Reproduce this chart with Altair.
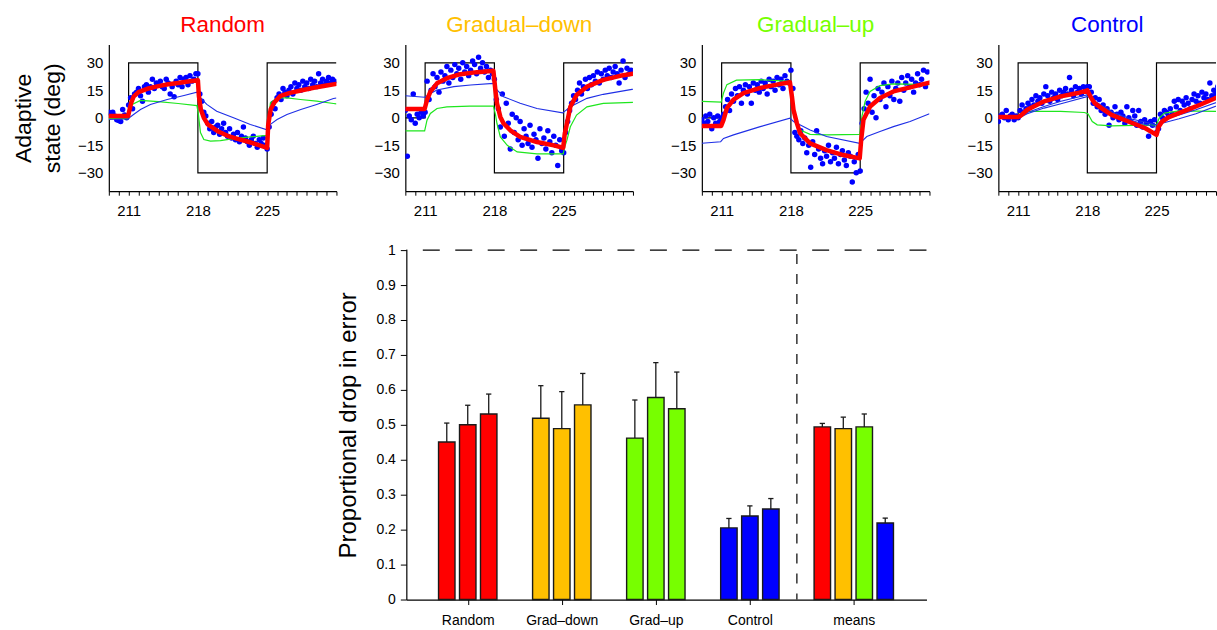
import altair as alt
import pandas as pd

FONT = "Liberation Sans"
RED = "#FF0000"
ORANGE = "#FFC000"
LIME = "#77FF00"
BLUE = "#0000FF"
FIT_GREEN = "#1EE61E"
FIT_BLUE = "#1F2FE6"

# ---------------- top panels: adaptive state vs trial block ----------------
TRIAL_X = [round(209.0 + 0.2 * k, 1) for k in range(115)]
X_TICKS = list(range(209, 233))

PERTURB_X = [209, 211, 211, 218, 218, 225, 225, 232]
PERTURB_Y = [0, 0, 30, 30, -30, -30, 30, 30]

# Random
RAND_DOTS = [3, 2, 3, 1, -1, -1.5, -2, 4.5, 1.5, 0,
             7, 11, 5, 13, 14, 16, 12, 9, 17, 18, 14, 17, 21, 16, 19, 18, 20, 17, 16, 21,
             19, 13, 17, 11.5, 20, 18, 22, 17, 21, 22, 18, 23, 20, 21, 24, 24,
             13, 9, 3, 1, -3, -6, -2, -8, -5, -4, -9, -6, -3, -8, -10, -6, -11, -9, -12, -8,
             -13, -10, -5, -11, -13, -15, -12, -10, -14, -16, -12, -14, -11, -15, -17,
             -5, 2, 8, 5, 11, 13, 10, 16, 14, 12, 15, 17, 13, 19, 16, 18, 15, 20, 17, 19,
             16, 21, 18, 20, 17, 24, 19, 21, 18, 20, 22, 19, 21, 20]
RAND_RED_X = [209.0, 210.95, 211.1, 211.25, 211.5, 212.0, 213.0, 214.0, 215.0, 216.0, 217.0, 218.0,
              218.1, 218.3, 218.6, 219.0, 220.0, 221.0, 222.0, 223.0, 224.0, 225.0,
              225.1, 225.35, 225.7, 226.3, 227.3, 228.4, 229.7, 231.0, 232.0]
RAND_RED_Y = [1.0, 1.0, 4.5, 8.0, 11.5, 14.0, 16.0, 17.3, 18.3, 19.0, 19.8, 20.5,
              12.0, 4.5, 0.0, -3.6, -7.3, -9.8, -11.5, -12.9, -14.6, -16.4,
              -4.0, 4.5, 8.2, 11.8, 13.6, 14.9, 16.4, 17.6, 18.5]
RAND_GREEN_X = [209.0, 210.95, 211.1, 211.36, 212.2, 214.0, 216.0, 217.9, 218.05, 218.26, 218.6,
                219.27, 220.28, 221.6, 223.3, 224.95, 225.1, 225.33, 226.0, 227.0, 228.36, 230.0,
                231.7, 232.0]
RAND_GREEN_Y = [-0.4, -0.4, 3.5, 7.3, 9.5, 8.8, 7.8, 6.7, 2.0, -8.0, -11.8,
                -12.7, -12.4, -11.3, -10.4, -9.6, -2.0, 8.2, 10.9, 10.9, 10.0, 9.1,
                7.8, 7.6]
RAND_BLUE_X = [209.0, 210.95, 211.5, 212.2, 213.2, 214.9, 216.6, 217.9, 218.26, 218.9, 219.9,
               221.6, 223.3, 224.9, 225.33, 226.0, 227.0, 228.4, 230.0, 231.7, 232.0]
RAND_BLUE_Y = [-0.9, -0.5, 1.8, 4.5, 7.3, 10.0, 12.2, 14.0, 10.9, 7.3, 3.6,
               0.0, -3.6, -6.4, -3.6, -0.9, 1.8, 4.5, 7.3, 10.5, 10.8]

# Gradual-down
GDN_DOTS = [4, -21, 1, -1, 13, -3, 2, 0, 3, 1,
            3, 20, 10, 15, 24, 17, 22, 14, 25, 20, 23, 28, 19, 26, 22, 29, 24, 27, 21, 30,
            25, 28, 23, 26, 31, 29, 24, 33, 27, 30, 25, 28, 22, 26, 24, 21,
            10, 5, -5, 13, -10, 8, -3, -17, 2, -8, 0, -12, -2, -15, -6, -10, -14, -4, -16, -9,
            -12, -22, -6, -14, -11, -17, -7, -13, -19, -10, -15, -26, -12, -18, -19,
            -8, -2, 4, 8, 12, 10, 15, 19, 13, 17, 21, 16, 22, 18, 23, 20, 25, 19, 24, 21,
            26, 23, 27, 22, 25, 28, 24, 19, 26, 31, 22, 27, 24, 26]
GDN_RED_X = [209.0, 210.95, 211.19, 211.53, 212.2, 213.2, 214.56, 216.24, 217.9, 218.1, 218.26,
             218.6, 218.93, 219.6, 220.6, 222.3, 224.0, 224.95, 225.1, 225.33, 225.67, 226.3,
             227.35, 229.0, 230.7, 232.0]
GDN_RED_Y = [4.8, 4.8, 9.7, 14.3, 18.8, 21.6, 23.8, 24.9, 25.6, 15.0, 7.9,
             0.5, -3.1, -6.8, -10.4, -13.2, -15.0, -16.3, -9.0, -3.1, 6.0, 12.4,
             17.0, 20.7, 22.9, 24.0]
GDN_GREEN_X = [209.0, 210.95, 211.19, 211.53, 212.2, 213.2, 215.5, 217.9, 218.1, 218.26, 218.6,
               219.3, 220.3, 222.3, 224.95, 225.1, 225.33, 225.67, 226.3, 227.35, 229.0, 232.0]
GDN_GREEN_Y = [-7.1, -7.1, -1.3, 2.4, 5.1, 6.0, 6.4, 6.4, 2.0, -3.1, -10.4,
               -15.0, -18.6, -19.6, -19.6, -16.0, -12.2, -4.9, 1.5, 6.0, 7.9, 8.4]
GDN_BLUE_X = [209.0, 210.95, 211.53, 212.2, 213.9, 215.6, 217.9, 218.26, 218.93, 220.6, 222.3,
              224.9, 225.67, 227.35, 229.0, 231.9, 232.0]
GDN_BLUE_Y = [12.0, 11.2, 13.3, 15.2, 17.0, 17.9, 18.8, 15.2, 11.5, 7.9, 5.1,
              2.7, 6.0, 10.6, 12.8, 15.5, 15.6]

# Gradual-up
GUP_DOTS = [-1, -3, 1, -2, 2, -6, 0, -3, 1, -2,
            0, 2, 6, 10, 4, 13, 9, 16, 12, 17, 8, 15, 18, 13, 17, 8, 19, 15, 18, 14,
            20, 16, 19, 13, 21, 17, 20, 15, 22, 18, 21, 16, 23, 20, 19, 26,
            16, -8, -10, -12, -7, -14, -11, -19, -15, -27, -13, -20, -7, -17, -22, -25, -18, -21, -15, -24,
            -19, -22, -16, -25, -20, -18, -23, -26, -19, -21, -35, -24, -30, -20, -29,
            -3, 5, 14, 8, 21, 3, 12, 0, 16, 10, 14, 19, 6, 17, 12, 20, 10, 16, 19, 9,
            22, 15, 19, 23, 17, 21, 14, 19, 24, 18, 21, 26, 17, 25]
GUP_RED_X = [209.0, 210.95, 211.19, 211.53, 212.2, 213.2, 214.9, 216.58, 217.9, 218.1, 218.26,
             218.6, 218.93, 219.94, 221.6, 223.3, 224.95, 225.1, 225.33, 226.0, 227.0, 228.36,
             230.04, 232.0]
GUP_RED_Y = [-4.4, -4.4, -1.1, 5.3, 9.9, 13.5, 16.3, 18.1, 19.4, 11.7, 4.4,
             -2.9, -8.4, -13.9, -17.6, -20.3, -22.1, -12.0, -1.1, 6.2, 10.8, 14.4,
             16.6, 19.2]
GUP_GREEN_X = [209.0, 210.95, 211.19, 211.53, 212.5, 214.9, 217.9, 218.1, 218.43, 218.93, 219.94,
               221.6, 224.95, 225.17, 225.5, 226.0, 227.0, 228.36, 232.0]
GUP_GREEN_Y = [9.0, 8.6, 13.5, 18.1, 20.5, 20.8, 19.9, 6.2, -2.0, -6.6, -9.0,
               -9.3, -9.0, 0.7, 9.0, 14.4, 17.6, 18.5, 18.1]
GUP_BLUE_X = [209.0, 210.9, 211.19, 212.2, 214.9, 217.9, 218.26, 219.94, 221.6, 224.95, 225.67,
              227.0, 228.36, 230.04, 232.0]
GUP_BLUE_Y = [-13.9, -13.0, -11.2, -9.3, -4.8, -0.2, -2.0, -6.6, -10.2, -13.9, -10.2,
              -7.5, -4.8, -2.0, 2.2]

# Control
CTL_DOTS = [-2, 1, 2, 0, 4, -1, 1, 2, -1, 1,
            0, 4, 7, 3, 5, 8, 6, 10, 7, 12, 9, 11, 8, 13, 17, 12, 9, 14, 11, 13,
            10, 15, 12, 14, 16, 13, 22, 15, 12, 17, 14, 16, 13, 17, 15, 17,
            17, 14, 8, 11, 6, 10, 4, 7, 2, 5, -4, 3, 0, 6, 2, -1, 3, 1, -3, 6,
            0, -2, 4, 1, -4, 4, -2, -5, -1, -3, -10, -2, -4, -1, -8,
            -6, 2, 0, 4, 3, 1, 5, 2, 9, 6, 10, 4, 9, 7, 11, 8, 5, 10, 13, 9,
            12, 8, 14, 11, 13, 10, 19, 12, 15, 13, 17, 14, 16, 12]
CTL_RED_X = [209.0, 211.0, 211.24, 211.92, 213.63, 215.33, 217.04, 218.0, 218.4, 218.75, 219.43,
             220.45, 222.16, 223.87, 225.0, 225.2, 225.57, 226.26, 227.28, 228.99, 231.37, 232.0]
CTL_RED_Y = [0.4, 0.4, 1.1, 4.4, 9.0, 11.7, 13.5, 15.0, 10.8, 8.0, 5.3,
             1.6, -2.0, -5.7, -9.3, -5.0, -2.0, 0.4, 2.6, 6.2, 11.7, 12.5]
CTL_GREEN_X = [209.0, 211.0, 211.4, 211.9, 215.3, 217.7, 218.06, 218.5, 219.0, 220.45, 225.0,
               225.27, 225.8, 227.3, 232.0]
CTL_GREEN_Y = [1.1, 1.1, 2.9, 3.5, 3.5, 2.9, 2.2, -2.0, -3.8, -4.4, -3.8,
               -0.2, 2.6, 3.8, 3.5]
CTL_BLUE_X = [209.0, 211.0, 211.92, 213.63, 215.33, 218.06, 218.75, 220.45, 222.16, 225.0, 225.57,
              227.28, 228.99, 231.37, 232.0]
CTL_BLUE1_Y = [0.4, 0.4, 2.9, 6.2, 9.0, 12.6, 9.0, 3.5, -0.2, -3.8, -1.1,
               1.6, 4.4, 9.0, 9.6]
CTL_BLUE2_Y = [-0.3, -0.3, 2.2, 5.3, 7.7, 11.7, 8.0, 2.6, -1.1, -5.1, -2.9,
               -0.5, 2.2, 7.1, 7.8]

# ---------------- bottom panel: proportional drop in error ----------------
BAR_GROUPS = ["Random", "Grad–down", "Grad–up", "Control", "means"]
GROUP_POS = [1, 2, 3, 4, 5.105]
BAR_VALUES = [[0.451, 0.500, 0.531], [0.519, 0.489, 0.557], [0.462, 0.578, 0.546],
              [0.205, 0.239, 0.259], [0.494, 0.489, 0.494, 0.219]]
BAR_ERR_TOP = [[0.505, 0.556, 0.588], [0.612, 0.595, 0.647], [0.571, 0.678, 0.651],
               [0.232, 0.268, 0.289], [0.504, 0.522, 0.531, 0.233]]
BAR_COLORS = [[RED] * 3, [ORANGE] * 3, [LIME] * 3, [BLUE] * 3, [RED, ORANGE, LIME, BLUE]]
Y_TICKS = [0, 0.1, 0.2, 0.3, 0.4, 0.5, 0.6, 0.7, 0.8, 0.9, 1]

PANEL_W = 228
PANEL_H = 147


def seq_df(xs, ys):
    return pd.DataFrame({"x": xs, "y": ys, "i": list(range(len(xs)))})


def anchor(px, py):
    # invisible point that only fixes the layout bounds
    return alt.Chart(pd.DataFrame({"a": [0]})).mark_point(opacity=0, size=1).encode(
        x=alt.value(px), y=alt.value(py))


def top_panel(name, color, dots, red, green, blues, width, xmax, first):
    xsc = alt.Scale(domain=[209, xmax], nice=False, zero=False)
    ysc = alt.Scale(domain=[-40, 40], nice=False, zero=False)
    xax = alt.Axis(values=X_TICKS, grid=False, tickSize=4, tickColor="black", tickWidth=1,
                   domainColor="black", domainWidth=1.2, labelFont=FONT, labelFontSize=15,
                   labelColor="black", labelPadding=8, labelOverlap=False, labelFlush=False,
                   labelExpr="(datum.value==211||datum.value==218||datum.value==225) ? datum.label : ''")
    yax_kw = dict(values=[-30, -15, 0, 15, 30], grid=False, ticks=False, domainColor="black",
                  domainWidth=1.2, labelFont=FONT, labelFontSize=15, labelColor="black",
                  labelPadding=6, minExtent=33, maxExtent=33)
    if first:
        yax = alt.Axis(titleFont=FONT, titleFontSize=23, titleFontWeight="normal",
                       titleColor="black", titlePadding=11, titleLineHeight=29, **yax_kw)
        ytitle = ["Adaptive", "state (deg)"]
    else:
        yax = alt.Axis(**yax_kw)
        ytitle = ""
    X = alt.X("x:Q", scale=xsc, axis=xax, title="")
    Y = alt.Y("y:Q", scale=ysc, axis=yax, title=ytitle)

    layers = [
        alt.Chart(seq_df(PERTURB_X, PERTURB_Y)).mark_line(color="black", strokeWidth=1.2, clip=True)
        .encode(x=X, y=Y, order=alt.Order("i:Q")),
        alt.Chart(pd.DataFrame({"x": TRIAL_X, "y": dots})).mark_circle(color=BLUE, size=30, opacity=1, clip=True)
        .encode(x=X, y=Y),
        alt.Chart(seq_df(*green)).mark_line(color=FIT_GREEN, strokeWidth=1.2, clip=True)
        .encode(x=X, y=Y, order=alt.Order("i:Q")),
    ]
    for b in blues:
        layers.append(alt.Chart(seq_df(*b)).mark_line(color=FIT_BLUE, strokeWidth=1.1, clip=True)
                      .encode(x=X, y=Y, order=alt.Order("i:Q")))
    layers.append(alt.Chart(seq_df(*red)).mark_line(color=RED, strokeWidth=4.5, clip=True,
                                                    strokeJoin="round", strokeCap="round")
                  .encode(x=X, y=Y, order=alt.Order("i:Q")))
    if first:
        layers.append(anchor(-100, PANEL_H + 30))
    return alt.layer(*layers).properties(
        width=width, height=PANEL_H,
        title=alt.TitleParams(name, color=color, font=FONT, fontSize=22.5, fontWeight="normal",
                              anchor="middle", frame="group", baseline="alphabetic", offset=-10))


p1 = top_panel("Random", RED, RAND_DOTS, (RAND_RED_X, RAND_RED_Y), (RAND_GREEN_X, RAND_GREEN_Y),
               [(RAND_BLUE_X, RAND_BLUE_Y)], PANEL_W, 232, True)
p2 = top_panel("Gradual–down", ORANGE, GDN_DOTS, (GDN_RED_X, GDN_RED_Y), (GDN_GREEN_X, GDN_GREEN_Y),
               [(GDN_BLUE_X, GDN_BLUE_Y)], PANEL_W, 232, False)
p3 = top_panel("Gradual–up", LIME, GUP_DOTS, (GUP_RED_X, GUP_RED_Y), (GUP_GREEN_X, GUP_GREEN_Y),
               [(GUP_BLUE_X, GUP_BLUE_Y)], PANEL_W, 232, False)
p4 = top_panel("Control", BLUE, CTL_DOTS, (CTL_RED_X, CTL_RED_Y), (CTL_GREEN_X, CTL_GREEN_Y),
               [(CTL_BLUE_X, CTL_BLUE1_Y), (CTL_BLUE_X, CTL_BLUE2_Y)], 218, 231.02, False)

# ---------------- bar chart ----------------
PITCH = 0.223
HALF = 0.0875
CAP = 0.028
rows = []
for g, pos, vals, errs, cols in zip(BAR_GROUPS, GROUP_POS, BAR_VALUES, BAR_ERR_TOP, BAR_COLORS):
    n = len(vals)
    for j, (v, e, c) in enumerate(zip(vals, errs, cols)):
        cx = pos + (j - (n - 1) / 2) * PITCH
        rows.append({"group": g, "c": cx, "x0": cx - HALF, "x1": cx + HALF, "cl": cx - CAP,
                     "cr": cx + CAP, "v": v, "e": e, "base": 0, "color": c})
bdf = pd.DataFrame(rows)

bx = alt.Scale(domain=[0.347, 5.878], nice=False, zero=False)
by = alt.Scale(domain=[0, 1], nice=False, zero=False)
label_expr = ("datum.value < 1.5 ? 'Random' : datum.value < 2.5 ? 'Grad–down' : "
              "datum.value < 3.5 ? 'Grad–up' : datum.value < 4.5 ? 'Control' : 'means'")
bxa = alt.Axis(values=GROUP_POS, labelExpr=label_expr, grid=False, tickSize=5, tickColor="black",
               domainColor="black", domainWidth=1.2, labelFont=FONT, labelFontSize=14,
               labelColor="black", labelPadding=9, labelOverlap=False, labelFlush=False)
bya = alt.Axis(values=Y_TICKS, format="~g", grid=False, tickSize=6, tickColor="black",
               domainColor="black", domainWidth=1.2, labelFont=FONT, labelFontSize=14,
               labelColor="black", labelPadding=5, minExtent=32, maxExtent=32,
               titleFont=FONT, titleFontSize=24, titleFontWeight="normal", titleColor="black",
               titlePadding=14)
BX = alt.X("x0:Q", scale=bx, axis=bxa, title="")
BY = alt.Y("v:Q", scale=by, axis=bya, title="Proportional drop in error")

hline = alt.Chart(pd.DataFrame({"v": [1]})).mark_rule(color="black", strokeWidth=1.2, strokeDash=[17, 15.5]).encode(
    y=alt.Y("v:Q", scale=by, axis=bya, title="Proportional drop in error"))
vline = alt.Chart(pd.DataFrame({"x0": [4.5], "v": [1], "base": [0]})).mark_rule(
    color="black", strokeWidth=1.2, strokeDash=[10, 10], strokeDashOffset=16).encode(
    x=BX, y=BY, y2="base:Q")
bars = alt.Chart(bdf).mark_rect(stroke="#1a1a1a", strokeWidth=1.4).encode(
    x=BX, x2="x1:Q", y=BY, y2="base:Q", color=alt.Color("color:N", scale=None))
errs = alt.Chart(bdf).mark_rule(color="#1a1a1a", strokeWidth=1.3).encode(
    x=alt.X("c:Q", scale=bx, axis=bxa, title=""), y=BY, y2="e:Q")
caps = alt.Chart(bdf).mark_rule(color="#1a1a1a", strokeWidth=1.3).encode(
    x=alt.X("cl:Q", scale=bx, axis=bxa, title=""), x2="cr:Q",
    y=alt.Y("e:Q", scale=by, axis=bya, title="Proportional drop in error"))
bar_chart = alt.layer(hline, vline, bars, errs, caps, anchor(0, -12)).properties(width=521, height=350)

spacer = alt.Chart(pd.DataFrame({"a": [0]})).mark_point(opacity=0, size=1).encode(
    x=alt.value(0), y=alt.value(0)).properties(width=298, height=350)

top_row = alt.hconcat(p1, p2, p3, p4, spacing=69, bounds="flush")
bottom_row = alt.hconcat(spacer, bar_chart, spacing=0, bounds="flush")
chart = alt.vconcat(top_row, bottom_row, spacing=15, bounds="full").properties(
    padding={"left": 8, "top": 13, "right": 0, "bottom": 0}
).configure_view(stroke="transparent")

chart.save("out.html", embed_options={"renderer": "svg", "actions": False})
